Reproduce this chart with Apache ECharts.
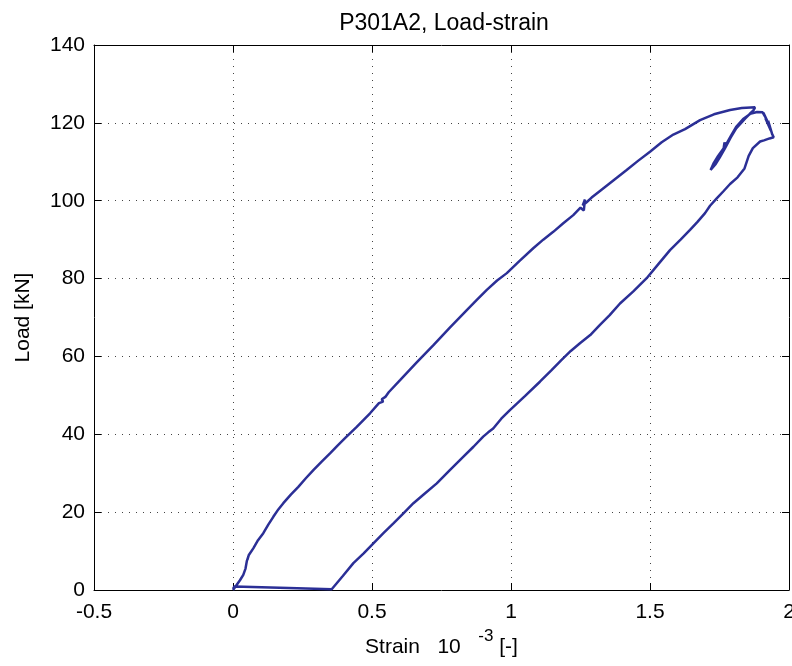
<!DOCTYPE html>
<html>
<head>
<meta charset="utf-8">
<script src="https://cdn.jsdelivr.net/npm/echarts@6/dist/echarts.min.js"></script>
<style>
  html, body { margin: 0; padding: 0; background: #fff; }
  #chart { width: 792px; height: 666px; }
</style>
</head>
<body>
<div id="chart"></div>
<script>
// strain in 10^-3, load in kN, in recording order
const strain = [
  0, 0.005, 0.013, 0.025, 0.037, 0.045, 0.05, 0.055, 0.052, 0.057,
  0.073, 0.09, 0.109, 0.127, 0.145, 0.163, 0.181, 0.208, 0.235, 0.262,
  0.289, 0.319, 0.349, 0.376, 0.403, 0.445, 0.493, 0.525, 0.540, 0.535,
  0.548, 0.543, 0.56, 0.601, 0.66, 0.721, 0.78, 0.841, 0.877, 0.913,
  0.950, 0.985, 1.03, 1.080, 1.116, 1.152, 1.188, 1.224, 1.250, 1.262,
  1.266, 1.258, 1.272, 1.290, 1.320, 1.368, 1.416, 1.458, 1.500, 1.542,
  1.584, 1.626, 1.680, 1.73, 1.788, 1.83, 1.878, 1.872, 1.86, 1.842,
  1.81, 1.79, 1.77, 1.75, 1.735, 1.718, 1.728, 1.745, 1.765, 1.768,
  1.772, 1.79, 1.81, 1.835, 1.86, 1.885, 1.905, 1.915, 1.908, 1.925,
  1.915, 1.935, 1.925, 1.94, 1.945, 1.93, 1.91, 1.896, 1.87, 1.855,
  1.84, 1.815, 1.788, 1.765, 1.74, 1.716, 1.698, 1.67, 1.644, 1.61,
  1.572, 1.53, 1.488, 1.44, 1.392, 1.355, 1.320, 1.285, 1.248, 1.215,
  1.182, 1.145, 1.104, 1.05, 0.996, 0.965, 0.936, 0.918, 0.900, 0.865,
  0.828, 0.78, 0.733, 0.69, 0.649, 0.613, 0.577, 0.541, 0.505, 0.47,
  0.433, 0.395, 0.355, 0.2, 0.005, 0.0
]
const load = [
  0, 0.3, 1.3, 2.5, 3.9, 5.5, 7.5, 8.6, 7.8, 9.0,
  10.7, 12.8, 14.6, 16.8, 18.8, 20.7, 22.3, 24.5, 26.5, 28.7,
  30.8, 33.0, 35.1, 37.1, 39.0, 41.9, 45.4, 48.0, 48.4, 49.0,
  49.6, 49.2, 50.8, 53.9, 58.4, 62.9, 67.4, 71.9, 74.5, 77.1,
  79.5, 81.4, 84.5, 87.8, 90.0, 92.0, 94.2, 96.3, 98.2, 97.5,
  100.3, 98.8, 99.6, 100.8, 102.5, 105.2, 107.9, 110.3, 112.6, 115.0,
  117.0, 118.4, 120.7, 122.2, 123.3, 123.8, 124.0, 123.2, 122.4, 121.1,
  118.6, 116.2, 113.5, 111, 109.3, 107.9, 109.5, 111.5, 113.5, 115,
  114.2, 116.5, 119.0, 121.0, 122.3, 122.8, 122.7, 121.5, 122.6, 120.0,
  121.2, 118.0, 120.5, 117.0, 116.3, 116.0, 115.5, 115.2, 113.5, 111.5,
  108.3, 106.0, 104.3, 102.5, 100.6, 98.7, 96.8, 94.5, 92.5, 90.0,
  87.3, 83.7, 80.1, 76.7, 73.6, 70.6, 68.1, 65.5, 63.4, 61.4,
  59.1, 56.4, 53.5, 49.8, 46.2, 44.0, 41.5, 40.5, 39.4, 36.8,
  34.2, 30.8, 27.4, 24.8, 22.3, 19.7, 17.1, 14.6, 12.0, 9.4,
  6.9, 3.6, 0.2, 0.5, 0.9, 0.3
]

const xTicks = { min: -0.5, max: 2, step: 0.5 }
const yTicks = { min: 0, max: 140, step: 20 }

const font = 'Liberation Sans, Arial, sans-serif'
const chart = echarts.init(document.getElementById('chart'))

const points = strain.map((s, i) => [s, load[i]])

const boxAxis = {
  axisLine: { show: true, onZero: false, lineStyle: { color: '#000', width: 1 } },
  axisTick: { show: true, inside: true, length: 7, lineStyle: { color: '#000' } },
  splitLine: { show: false },
  axisLabel: { show: false }
}

chart.setOption({
  animation: false,
  backgroundColor: '#fff',
  title: {
    text: 'P301A2, Load-strain',
    left: 439,
    top: 7,
    textAlign: 'center',
    textStyle: { fontFamily: font, fontWeight: 'normal', fontSize: 23, color: '#000' }
  },
  grid: { left: 94, right: 3, top: 45, bottom: 76, outerBoundsMode: 'none', containLabel: false },
  xAxis: [
    {
      type: 'value', min: xTicks.min, max: xTicks.max, interval: xTicks.step,
      position: 'bottom',
      axisLine: { show: true, onZero: false, lineStyle: { color: '#000', width: 1 } },
      axisTick: { show: true, inside: true, length: 7, lineStyle: { color: '#000' } },
      axisLabel: { fontFamily: font, fontSize: 21, color: '#000', margin: 12, formatter: v => String(v) },
      splitLine: { show: true, lineStyle: { color: '#444', width: 1, type: [1, 6] } },
      name: '{n|Strain   10   }{s|-3}{n| [-]}',
      nameLocation: 'middle',
      nameGap: 38,
      nameTextStyle: {
        rich: {
          n: { fontFamily: font, fontSize: 21, color: '#000', lineHeight: 30, verticalAlign: 'bottom' },
          s: { fontFamily: font, fontSize: 17, color: '#000', lineHeight: 17, verticalAlign: 'top' }
        }
      }
    },
    Object.assign({ type: 'value', min: xTicks.min, max: xTicks.max, interval: xTicks.step, position: 'top' }, boxAxis)
  ],
  yAxis: [
    {
      type: 'value', min: yTicks.min, max: yTicks.max, interval: yTicks.step,
      position: 'left',
      axisLine: { show: true, onZero: false, lineStyle: { color: '#000', width: 1 } },
      axisTick: { show: true, inside: true, length: 7, lineStyle: { color: '#000' } },
      axisLabel: { fontFamily: font, fontSize: 21, color: '#000', margin: 9 },
      splitLine: { show: true, lineStyle: { color: '#444', width: 1, type: [1, 6] } },
      name: 'Load [kN]',
      nameLocation: 'middle',
      nameGap: 60,
      nameTextStyle: { fontFamily: font, fontSize: 21, color: '#000' }
    },
    Object.assign({ type: 'value', min: yTicks.min, max: yTicks.max, interval: yTicks.step, position: 'right' }, boxAxis)
  ],
  series: [
    {
      type: 'line',
      data: points,
      showSymbol: false,
      xAxisIndex: 0,
      yAxisIndex: 0,
      lineStyle: { color: '#2b2f96', width: 2.5 },
      silent: true
    }
  ]
})
</script>
</body>
</html>
